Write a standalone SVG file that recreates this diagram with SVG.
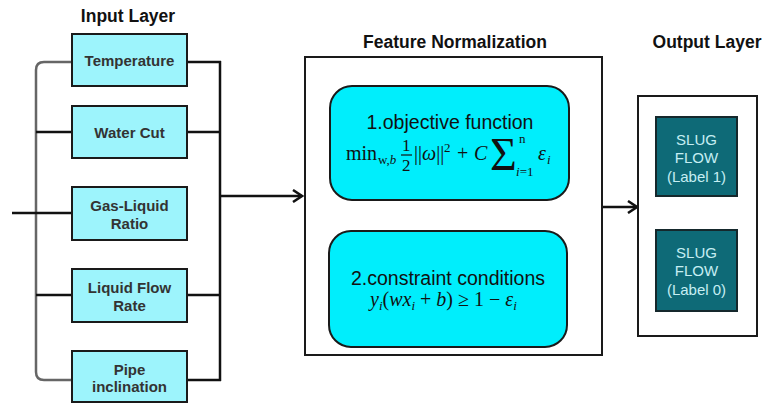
<svg xmlns="http://www.w3.org/2000/svg" width="764" height="404" viewBox="0 0 764 404">
<style>
.title{font-family:"Liberation Sans",Arial,sans-serif;font-weight:bold;font-size:17.5px;fill:#111;text-anchor:middle}
.inbox{fill:#9df4fc;stroke:#1a1a1a;stroke-width:2}
.inlabel{font-family:"Liberation Sans",Arial,sans-serif;font-weight:bold;font-size:15px;fill:#333;text-anchor:middle}
.frame{fill:#fff;stroke:#1a1a1a;stroke-width:2}
.rbox{fill:#00eefc;stroke:#1a1a1a;stroke-width:2}
.rtext{font-family:"Liberation Sans",Arial,sans-serif;font-size:19.5px;fill:#111;text-anchor:middle}
.math{font-family:"Liberation Serif","Times New Roman",serif;font-size:20px;fill:#111}
.it{font-style:italic}
.s13{font-size:13px}
.s17{font-size:17px}
.big{font-size:46px}
.obox{fill:#0e6a77;stroke:#15282c;stroke-width:2}
.otext{font-family:"Liberation Sans",Arial,sans-serif;font-size:15px;fill:#c6eef3;text-anchor:middle}
.bk{fill:none;stroke:#111;stroke-width:2.5}
.gr{fill:none;stroke:#666;stroke-width:2.5}
</style>
<defs>
<marker id="arr" markerWidth="12" markerHeight="14" refX="10" refY="7" orient="auto" markerUnits="userSpaceOnUse">
<path d="M1,1 L10,7 L1,13" fill="none" stroke="#111" stroke-width="2.5"/>
</marker>
</defs>

<text class="title" x="128" y="22">Input Layer</text>
<text class="title" x="455" y="48">Feature Normalization</text>
<text class="title" x="707" y="48">Output Layer</text>

<g id="connectors">
<path class="gr" d="M72,62 H44 Q36,62 36,70 V372 Q36,380 44,380 H72"/>
<path class="bk" d="M36,132 H72"/>
<path class="bk" d="M12,213 H72"/>
<path class="bk" d="M36,295 H72"/>
<path class="bk" d="M187,62 H221 M187,132 H221 M187,295 H221 M187,380 H221"/>
<path class="bk" d="M220,61 V381"/>
<path class="bk" d="M220,196 H302" marker-end="url(#arr)"/>
<path class="bk" d="M602,207 H637" marker-end="url(#arr)"/>
</g>

<g id="temperature">
<rect class="inbox" x="72" y="34" width="115" height="52"/>
<text class="inlabel" x="129.5" y="66">Temperature</text>
</g>
<g id="water-cut">
<rect class="inbox" x="72" y="106" width="115" height="52"/>
<text class="inlabel" x="129.5" y="138">Water Cut</text>
</g>
<g id="gas-liquid-ratio">
<rect class="inbox" x="72" y="187" width="115" height="53"/>
<text class="inlabel" x="129.5" y="211">Gas-Liquid</text>
<text class="inlabel" x="129.5" y="229">Ratio</text>
</g>
<g id="liquid-flow-rate">
<rect class="inbox" x="72" y="269" width="115" height="53"/>
<text class="inlabel" x="129.5" y="293">Liquid Flow</text>
<text class="inlabel" x="129.5" y="311">Rate</text>
</g>
<g id="pipe-inclination">
<rect class="inbox" x="72" y="351" width="115" height="51"/>
<text class="inlabel" x="129.5" y="375">Pipe</text>
<text class="inlabel" x="129.5" y="392">inclination</text>
</g>

<g id="feature-normalization">
<rect class="frame" x="305" y="57" width="297" height="298"/>
</g>

<g id="objective-function">
<rect class="rbox" x="330" y="86" width="239" height="114" rx="22" ry="22"/>
<text class="rtext" x="450" y="129">1.objective function</text>
<text class="math" x="346" y="160">min</text>
<text class="math s13" x="378" y="164">w,<tspan class="it">b</tspan></text>
<text class="math s17" x="402" y="151">1</text>
<line x1="401" y1="155" x2="412" y2="155" stroke="#111" stroke-width="1.2"/>
<text class="math s17" x="402" y="171">2</text>
<text class="math" x="414" y="160">||<tspan class="it">ω</tspan>||</text>
<text class="math s13" x="444" y="152">2</text>
<text class="math" x="457" y="160">+</text>
<text class="math it" x="474" y="160">C</text>
<text class="math big" x="490" y="170">Σ</text>
<text class="math s13" x="519" y="143">n</text>
<text class="math s13" x="516" y="176"><tspan class="it">i</tspan>=1</text>
<text class="math it" x="538" y="160">ε</text>
<text class="math it s13" x="547" y="164">i</text>
</g>

<g id="constraint-conditions">
<rect class="rbox" x="329" y="231" width="238" height="116" rx="22" ry="22"/>
<text class="rtext" x="448" y="285">2.constraint conditions</text>
<text class="math" x="370" y="306"><tspan class="it">y</tspan><tspan class="it s13" dy="4">i</tspan><tspan dy="-4">(</tspan><tspan class="it">wx</tspan><tspan class="it s13" dy="4">i</tspan><tspan dy="-4"> + </tspan><tspan class="it">b</tspan><tspan>) ≥ 1 − </tspan><tspan class="it">ε</tspan><tspan class="it s13" dy="4">i</tspan></text>
</g>

<g id="output-layer">
<rect class="frame" x="638" y="96" width="119" height="240"/>
</g>
<g id="slug-flow-1">
<rect class="obox" x="656" y="117" width="81" height="79"/>
<text class="otext" x="696.5" y="145">SLUG</text>
<text class="otext" x="696.5" y="163">FLOW</text>
<text class="otext" x="696.5" y="182">(Label 1)</text>
</g>
<g id="slug-flow-0">
<rect class="obox" x="656" y="230" width="81" height="81"/>
<text class="otext" x="696.5" y="258">SLUG</text>
<text class="otext" x="696.5" y="276">FLOW</text>
<text class="otext" x="696.5" y="295">(Label 0)</text>
</g>
</svg>
